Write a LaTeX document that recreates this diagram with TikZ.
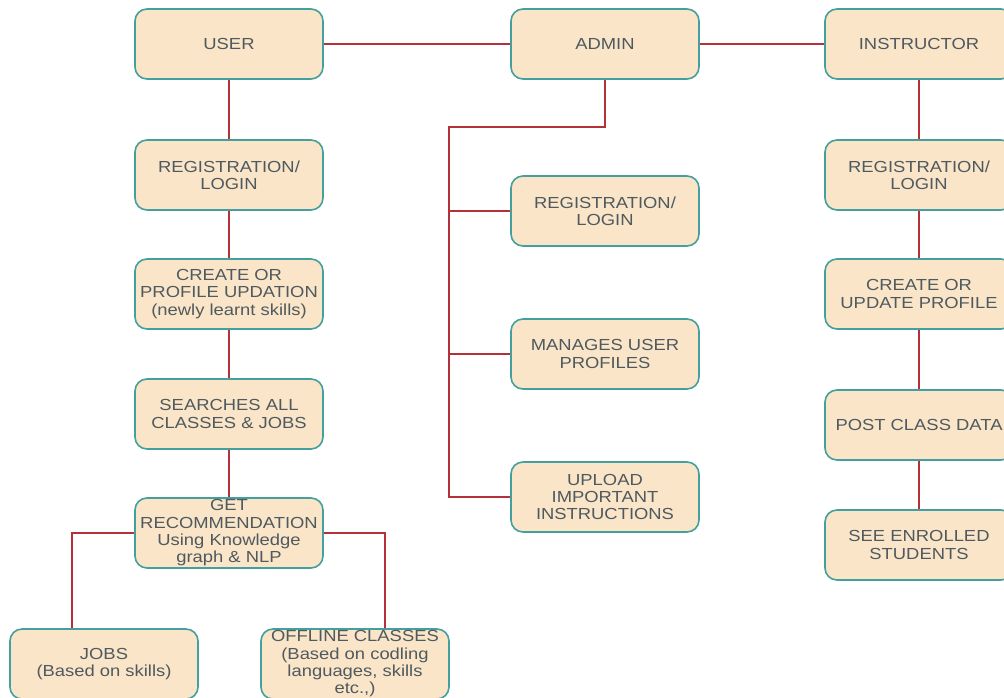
\documentclass[tikz,border=0pt]{standalone}
\usepackage{fontspec}
\setmainfont[FakeStretch=1.15]{Liberation Sans}
\definecolor{boxfill}{RGB}{250,229,200}
\definecolor{boxdraw}{RGB}{68,160,158}
\definecolor{linkred}{RGB}{180,50,55}
\definecolor{txt}{RGB}{78,90,95}
\tikzset{
  card/.style={draw=boxdraw, fill=boxfill, line width=1.6pt, rounded corners=12pt,
    minimum width=188pt, minimum height=70pt, inner sep=0pt, align=center,
    text=txt, font=\fontsize{16}{17.3}\selectfont},
  link/.style={draw=linkred, line width=1.4pt}
}
\begin{document}
\begin{tikzpicture}[x=1pt,y=-1pt]
\useasboundingbox (0,0) rectangle (1004,697);
% top row
\node[card] (user) at (229,44) {USER};
\node[card] (admin) at (605,44) {ADMIN};
\node[card] (instr) at (919,44) {INSTRUCTOR};
% user column
\node[card] (ureg) at (229,175) {REGISTRATION/\\LOGIN};
\node[card] (uprof) at (229,294) {CREATE OR\\PROFILE UPDATION\\(newly learnt skills)};
\node[card] (usearch) at (229,414) {SEARCHES ALL\\CLASSES \& JOBS};
\node[card] (urec) at (229,533) {GET\\RECOMMENDATION\\Using Knowledge\\graph \& NLP};
\node[card] (jobs) at (104,664) {JOBS\\(Based on skills)};
\node[card] (offl) at (355,664) {OFFLINE CLASSES\\(Based on codling\\languages, skills\\etc.,)};
% admin column
\node[card] (areg) at (605,211) {REGISTRATION/\\LOGIN};
\node[card] (aman) at (605,354) {MANAGES USER\\PROFILES};
\node[card] (aupl) at (605,497) {UPLOAD\\IMPORTANT\\INSTRUCTIONS};
% instructor column
\node[card] (ireg) at (919,175) {REGISTRATION/\\LOGIN};
\node[card] (iprof) at (919,294) {CREATE OR\\UPDATE PROFILE};
\node[card] (ipost) at (919,425) {POST CLASS DATA};
\node[card] (isee) at (919,545) {SEE ENROLLED\\STUDENTS};
% links
\begin{scope}[on background layer/.style={}]
\path[link] (user.east) -- (admin.west);
\path[link] (admin.east) -- (instr.west);
\path[link] (user.south) -- (ureg.north);
\path[link] (ureg.south) -- (uprof.north);
\path[link] (uprof.south) -- (usearch.north);
\path[link] (usearch.south) -- (urec.north);
\path[link] (urec.west) -| ([xshift=-32pt]jobs.north);
\path[link] (urec.east) -| ([xshift=30pt]offl.north);
\coordinate (abus) at (449,127);
\path[link] (admin.south) |- (abus) |- (aupl.west);
\path[link] (abus |- areg.west) -- (areg.west);
\path[link] (abus |- aman.west) -- (aman.west);
\path[link] (instr.south) -- (ireg.north);
\path[link] (ireg.south) -- (iprof.north);
\path[link] (iprof.south) -- (ipost.north);
\path[link] (ipost.south) -- (isee.north);
\end{scope}
\end{tikzpicture}
\end{document}
